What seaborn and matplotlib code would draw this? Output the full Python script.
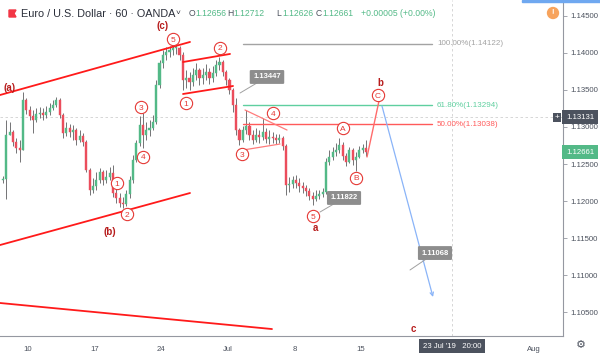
import numpy as np
import pandas as pd
import seaborn as sns
import matplotlib.pyplot as plt
import matplotlib.transforms as mtransforms
from matplotlib.patches import Polygon, Rectangle

# EUR/USD, 6-hour candles.
# x axis is trading time in hours, 0 = Mon 10 Jun 2019 00:00 (weekends skipped)
bar_start = -48
bar_hours = 6
open0 = 1.1228
closes = [1.1230, 1.1289, 1.1293, 1.1280, 1.1272, 1.1269, 1.1337, 1.1323, 1.1315, 1.1310,
          1.1318, 1.1319, 1.1316, 1.1320, 1.1326, 1.1330, 1.1337, 1.1316, 1.1292, 1.1299,
          1.1293, 1.1296, 1.1282, 1.1288, 1.1280, 1.1242, 1.1215, 1.1220, 1.1228, 1.1239,
          1.1228, 1.1232, 1.1238, 1.1211, 1.1204, 1.1197, 1.1196, 1.1209, 1.1228, 1.1255,
          1.1278, 1.1303, 1.1289, 1.1296, 1.1299, 1.1307, 1.1357, 1.1386, 1.1397, 1.1401,
          1.1404, 1.1407, 1.1407, 1.1397, 1.1364, 1.1366, 1.1361, 1.1370, 1.1377, 1.1366,
          1.1370, 1.1374, 1.1366, 1.1373, 1.1384, 1.1388, 1.1374, 1.1364, 1.1350, 1.1330,
          1.1296, 1.1282, 1.1296, 1.1301, 1.1289, 1.1282, 1.1289, 1.1286, 1.1293, 1.1284,
          1.1286, 1.1285, 1.1282, 1.1285, 1.1274, 1.1222, 1.1223, 1.1228, 1.1224, 1.1220,
          1.1218, 1.1214, 1.1207, 1.1203, 1.1207, 1.1209, 1.1212, 1.1253, 1.1259, 1.1266,
          1.1269, 1.1276, 1.1261, 1.1253, 1.1269, 1.1255, 1.1259, 1.1269, 1.1272, 1.1266]
highs = [1.1234, 1.1310, 1.1307, 1.1296, 1.1285, 1.1282, 1.1347, 1.1339, 1.1328, 1.1323,
         1.1326, 1.1327, 1.1326, 1.1328, 1.1332, 1.1337, 1.1341, 1.1339, 1.1319, 1.1307,
         1.1304, 1.1303, 1.1299, 1.1296, 1.1292, 1.1282, 1.1245, 1.1231, 1.1239, 1.1245,
         1.1242, 1.1242, 1.1246, 1.1249, 1.1220, 1.1211, 1.1205, 1.1215, 1.1234, 1.1262,
         1.1282, 1.1315, 1.1319, 1.1307, 1.1310, 1.1316, 1.1364, 1.1391, 1.1404, 1.1408,
         1.1409, 1.1411, 1.1412, 1.1409, 1.1401, 1.1377, 1.1374, 1.1380, 1.1386, 1.1380,
         1.1380, 1.1385, 1.1380, 1.1382, 1.1391, 1.1395, 1.1391, 1.1377, 1.1366, 1.1353,
         1.1339, 1.1299, 1.1301, 1.1323, 1.1307, 1.1296, 1.1299, 1.1296, 1.1312, 1.1299,
         1.1296, 1.1293, 1.1291, 1.1291, 1.1288, 1.1277, 1.1232, 1.1234, 1.1235, 1.1231,
         1.1226, 1.1222, 1.1218, 1.1212, 1.1215, 1.1215, 1.1218, 1.1258, 1.1269, 1.1273,
         1.1278, 1.1285, 1.1280, 1.1265, 1.1273, 1.1272, 1.1266, 1.1274, 1.1277, 1.1282]
lows = [1.1224, 1.1203, 1.1289, 1.1274, 1.1265, 1.1253, 1.1269, 1.1318, 1.1310, 1.1292,
        1.1307, 1.1312, 1.1310, 1.1312, 1.1316, 1.1323, 1.1327, 1.1312, 1.1285, 1.1288,
        1.1286, 1.1282, 1.1276, 1.1280, 1.1274, 1.1239, 1.1208, 1.1211, 1.1215, 1.1224,
        1.1222, 1.1224, 1.1228, 1.1205, 1.1197, 1.1192, 1.1191, 1.1193, 1.1204, 1.1224,
        1.1253, 1.1274, 1.1272, 1.1282, 1.1288, 1.1296, 1.1304, 1.1353, 1.1380, 1.1391,
        1.1395, 1.1397, 1.1399, 1.1391, 1.1350, 1.1353, 1.1350, 1.1355, 1.1364, 1.1357,
        1.1358, 1.1364, 1.1358, 1.1361, 1.1369, 1.1377, 1.1369, 1.1357, 1.1345, 1.1320,
        1.1289, 1.1276, 1.1280, 1.1291, 1.1282, 1.1277, 1.1280, 1.1278, 1.1282, 1.1278,
        1.1277, 1.1278, 1.1277, 1.1278, 1.1269, 1.1208, 1.1212, 1.1218, 1.1218, 1.1212,
        1.1211, 1.1207, 1.1201, 1.1195, 1.1200, 1.1203, 1.1205, 1.1209, 1.1249, 1.1255,
        1.1261, 1.1265, 1.1255, 1.1247, 1.1251, 1.1249, 1.1241, 1.1258, 1.1265, 1.1261]

# "22" sits under the crosshair date box in the original, so it is left out
date_ticks = [0, 120, 240, 360, 480, 600, 912]
date_labels = ["10", "17", "24", "Jul", "8", "15", "Aug"]
price_ticks = [1.105, 1.110, 1.115, 1.120, 1.125, 1.130, 1.135, 1.140, 1.145]

# drawings (time in trading hours, price)
channel_lines = {
    "upper": [(-50.5, 1.13432), (291.9, 1.14149)],
    "lower": [(-50.5, 1.11405), (291.9, 1.12108)],
    "bottom": [(-50.5, 1.10622), (439.6, 1.10270)],
    "flat_top": [(279.3, 1.13878), (364.0, 1.13987)],
    "flat_bot": [(279.3, 1.13446), (369.4, 1.13554)],
}
triangle_lines = {
    "tri_top": [(391.0, 1.13230), (466.7, 1.12959)],
    "tri_bot": [(387.4, 1.12689), (454.1, 1.12770)],
}
proj_up = [(610.8, 1.12595), (632.4, 1.13351)]
proj_down = [(637.8, 1.13284), (729.7, 1.10703)]

fib_start, fib_end = 387.4, 727.9
fib_names = ["100.00%(1.14122)", "61.80%(1.13294)", "50.00%(1.13038)"]
fib_prices = [1.14122, 1.13294, 1.13038]
fib_colors = ["#a3a3a3", "#5fcf9f", "#ff5a5a"]

circle_labels = ["5", "2", "1", "3", "4", "1", "2", "3", "4", "5", "A", "B", "C"]
circle_h = [261.3, 345.9, 284.7, 203.6, 207.2, 160.4, 178.4, 385.6, 441.4, 513.5, 567.6, 591.0, 630.6]
circle_p = [1.14189, 1.14068, 1.13324, 1.13270, 1.12595, 1.12243, 1.11824, 1.12635, 1.13189,
            1.11797, 1.12986, 1.12311, 1.13432]

wave_labels = ["(a)", "(b)", "(c)", "a", "b", "c"]
wave_h = [-32.4, 147.7, 243.2, 517.1, 634.2, 693.7]
wave_p = [1.13527, 1.11581, 1.14365, 1.11635, 1.13595, 1.10270]

note_texts = ["1.13447", "1.11822", "1.11068"]
note_anchor = [(382.0, 1.13459), (526.1, 1.11851), (688.3, 1.11068)]
note_box = [(430.6, 1.13676), (569.4, 1.12041), (733.3, 1.11297)]

cross_h, cross_p = 764, 1.13131
last_price = 1.12661

sns.set_theme(style="white")
plt.rcParams['font.family'] = ['Liberation Sans', 'DejaVu Sans']

UP, DOWN, WICK = "#53b987", "#eb4d5c", "#737375"
AXC, TXT = "#9598a1", "#4c525e"

fig = plt.figure(figsize=(6, 3.54), dpi=100)
ax = fig.add_axes([0, 18 / 354, 563 / 600, 336 / 354])
ax.set_facecolor("white")

n = len(closes)
df = pd.DataFrame({
    "t": [bar_start + bar_hours * i + bar_hours / 2 for i in range(n)],
    "open": [open0] + closes[:-1],
    "close": closes, "high": highs, "low": lows,
})
df["up"] = df["close"] >= df["open"]
col = np.where(df["up"], UP, DOWN)

ax.vlines(df["t"], df["low"], df["high"], color=WICK, lw=0.7, zorder=2)
body = (df["close"] - df["open"]).abs().clip(lower=0.00007)
ax.bar(df["t"], body, bottom=df[["open", "close"]].min(axis=1), width=3.8,
       color=col, edgecolor=col, lw=0.3, zorder=3)

# fibonacci levels
for name, p, c in zip(fib_names, fib_prices, fib_colors):
    ax.plot([fib_start, fib_end], [p, p], color=c, lw=1.0, zorder=2)
    ax.text(fib_end + 9, p, name, color=c, fontsize=5.8, va="center", ha="left")

# trend lines
rows = []
for k, pts in channel_lines.items():
    for h, p in pts:
        rows.append((k, h, p))
lines_df = pd.DataFrame(rows, columns=["name", "h", "price"])
sns.lineplot(data=lines_df, x="h", y="price", units="name", estimator=None, sort=False,
             color="#ff1a1a", lw=1.3, ax=ax, zorder=4)
rows = []
for k, pts in triangle_lines.items():
    for h, p in pts:
        rows.append((k, h, p))
tri_df = pd.DataFrame(rows, columns=["name", "h", "price"])
sns.lineplot(data=tri_df, x="h", y="price", units="name", estimator=None, sort=False,
             color="#ff7b7b", lw=0.9, ax=ax, zorder=4)

ax.plot([proj_up[0][0], proj_up[1][0]], [proj_up[0][1], proj_up[1][1]], color="#ff6b6b", lw=1.0, zorder=4)
ax.annotate("", xy=proj_down[1], xytext=proj_down[0],
            arrowprops=dict(arrowstyle="->", color="#8ab4f8", lw=0.9, shrinkA=0, shrinkB=0,
                            mutation_scale=6), zorder=4)

# crosshair
ax.axvline(cross_h, color="#d0d0d0", lw=0.6, ls=(0, (3, 3)), zorder=1)
ax.axhline(cross_p, color="#d0d0d0", lw=0.6, ls=(0, (3, 3)), zorder=1)

# elliott wave circles
ax.scatter(circle_h, circle_p, s=78, facecolor="white", edgecolor="#e53935", linewidth=0.8, zorder=6)
for lab, h, p in zip(circle_labels, circle_h, circle_p):
    ax.text(h, p, lab, color="#e53935", fontsize=6, ha="center", va="center_baseline", zorder=7)
for lab, h, p in zip(wave_labels, wave_h, wave_p):
    ax.text(h, p, lab, color="#b71c1c", fontsize=7, fontweight="bold", ha="center",
            va="center", zorder=7)

# price notes
for txt, (ah, ap), (bh, bp) in zip(note_texts, note_anchor, note_box):
    ax.plot([ah, bh], [ap, bp], color="#a0a0a0", lw=0.7, zorder=5)
    ax.text(bh, bp, txt, color="white", fontsize=5.5, fontweight="bold", ha="center", va="center",
            zorder=6, bbox=dict(boxstyle="round,pad=0.45,rounding_size=0.15", fc="#8d8d8d", ec="none"))

# axes
ax.set_xlim(-50.45, 963.96)
ax.set_ylim(1.10176, 1.14716)
ax.yaxis.tick_right()
ax.set_yticks(price_ticks)
ax.set_yticklabels([f"{v:.5f}" for v in price_ticks])
ax.set_xticks(date_ticks)
ax.set_xticklabels(date_labels)
ax.tick_params(axis="both", labelsize=5.6, colors=AXC, labelcolor=TXT, length=3, width=0.6, pad=2)
ax.tick_params(axis="x", pad=4)
for s in ["top", "left"]:
    ax.spines[s].set_visible(False)
for s in ["right", "bottom"]:
    ax.spines[s].set_color(AXC)
    ax.spines[s].set_linewidth(0.8)
ax.set_xlabel("")
ax.set_ylabel("")
ax.grid(False)

ytr = mtransforms.blended_transform_factory(ax.transAxes, ax.transData)
ax.text(1.0 + 3 / 563, last_price, "1.12661", transform=ytr, color="white", fontsize=5.6,
        ha="left", va="center", bbox=dict(boxstyle="square,pad=0.45", fc=UP, ec="none"), zorder=10)
ax.text(1.0 + 3 / 563, cross_p, "1.13131", transform=ytr, color="white", fontsize=5.6,
        ha="left", va="center", bbox=dict(boxstyle="square,pad=0.45", fc=TXT, ec="none"), zorder=10)
ax.text(1.0 - 6 / 563, cross_p, "+", transform=ytr, color="white", fontsize=6,
        ha="center", va="center", bbox=dict(boxstyle="square,pad=0.15", fc=TXT, ec="none"), zorder=10)

xtr = mtransforms.blended_transform_factory(ax.transData, fig.transFigure)
ax.text(cross_h, 8 / 354, "23 Jul '19   20:00", transform=xtr, color="white", fontsize=5.6,
        ha="center", va="center", bbox=dict(boxstyle="square,pad=0.5", fc=TXT, ec="none"),
        zorder=10, clip_on=False)

# header
fig.text(21 / 600, 1 - 14 / 354, "Euro / U.S. Dollar · 60 · OANDA", fontsize=7.8, color="#2a2e39",
         va="center", ha="left")
fig.text(176 / 600, 1 - 14 / 354, "˅", fontsize=6, color="#2a2e39", va="center", ha="left")
ohlc = [("O", 189, "1.12656"), ("H", 227, "1.12712"), ("L", 276, "1.12626"), ("C", 316, "1.12661")]
for letter, xp, val in ohlc:
    fig.text(xp / 600, 1 - 14 / 354, letter, fontsize=6.2, color=TXT, va="center", ha="left")
    fig.text((xp + 6.5) / 600, 1 - 14 / 354, val, fontsize=6.2, color=UP, va="center", ha="left")
fig.text(361 / 600, 1 - 14 / 354, "+0.00005 (+0.00%)", fontsize=6.2, color=UP, va="center", ha="left")

flag = Polygon([(9 / 600, 1 - 10 / 354), (16 / 600, 1 - 10 / 354), (14 / 600, 1 - 13.5 / 354),
                (16 / 600, 1 - 17 / 354), (9 / 600, 1 - 17 / 354)], closed=True,
               transform=fig.transFigure, color="#f23645")
fig.add_artist(flag)
fig.add_artist(Rectangle((522 / 600, 1 - 2 / 354), 78 / 600, 2 / 354, transform=fig.transFigure,
                         color="#6fa8f0"))
fig.text(553 / 600, 1 - 13 / 354, "!", fontsize=5.5, color="white", fontweight="bold",
         ha="center", va="center", bbox=dict(boxstyle="circle,pad=0.35", fc="#f7a35c", ec="none"))
fig.text(581 / 600, 9 / 354, "⚙", fontsize=8, color=TXT, ha="center", va="center")

fig.savefig("out.png", dpi=100)
